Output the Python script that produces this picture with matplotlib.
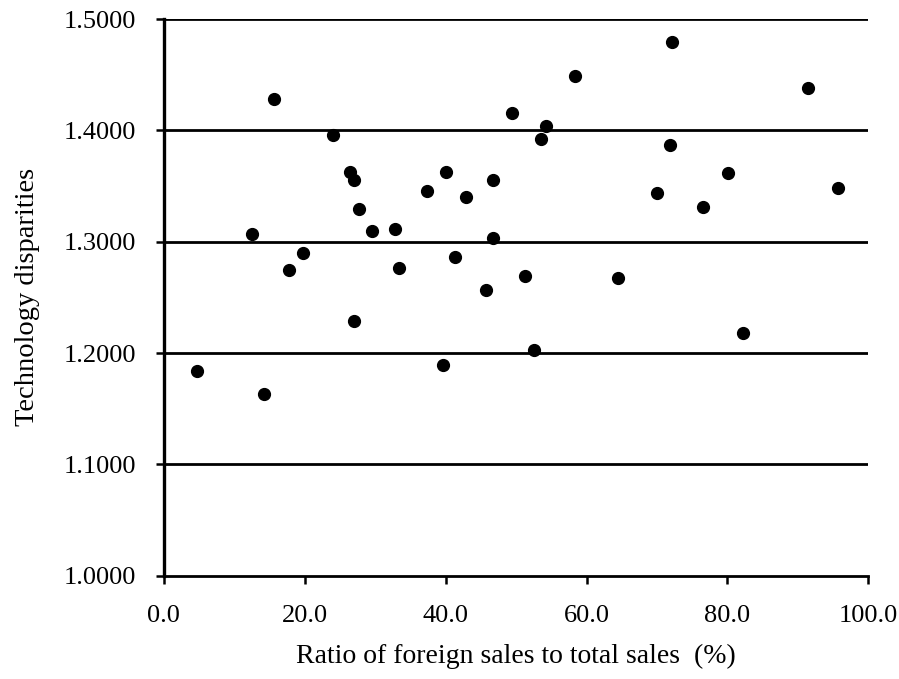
import matplotlib.pyplot as plt
import numpy as np

# foreign sales ratio (%) vs technology disparities
ratio = [4.7, 12.6, 14.2, 15.7, 17.8, 19.8, 24.1, 26.4, 27.0, 27.0,
         27.7, 29.5, 32.8, 33.4, 37.4, 39.7, 40.1, 41.4, 42.9, 45.7,
         46.7, 46.8, 49.4, 51.3, 52.6, 53.5, 54.3, 58.4, 64.5, 70.0,
         71.8, 72.2, 76.5, 80.1, 82.2, 91.4, 95.7]
disparity = [1.184, 1.307, 1.163, 1.428, 1.275, 1.290, 1.396, 1.363, 1.355, 1.229,
             1.329, 1.310, 1.311, 1.276, 1.346, 1.189, 1.363, 1.286, 1.340, 1.257,
             1.303, 1.355, 1.416, 1.269, 1.203, 1.392, 1.404, 1.449, 1.267, 1.344,
             1.387, 1.479, 1.331, 1.362, 1.218, 1.438, 1.348]

x_ticks = [0, 20, 40, 60, 80, 100]
y_ticks = [1.0, 1.1, 1.2, 1.3, 1.4, 1.5]

plt.rcParams['font.family'] = ['Liberation Serif', 'DejaVu Serif']

fig = plt.figure(figsize=(8.99, 6.79), dpi=100)
ax = fig.add_axes([0.182, 0.152, 0.784, 0.820])

# horizontal grid lines
for yv in y_ticks[1:]:
    ax.axhline(yv, color='black', lw=2.0, zorder=1)

ax.plot(ratio, disparity, 'o', color='black', markersize=8.5, zorder=3)

ax.set_xlim(0, 100)
ax.set_ylim(1.0, 1.5)
ax.set_xticks(x_ticks)
ax.set_xticklabels([f'{v:.1f}' for v in x_ticks])
ax.set_yticks(y_ticks)
ax.set_yticklabels([f'{v:.4f}' for v in y_ticks])

for s in ['top', 'right']:
    ax.spines[s].set_visible(False)
ax.spines['left'].set_linewidth(2.4)
ax.spines['bottom'].set_linewidth(2.0)

ax.tick_params(axis='both', direction='out', length=6, width=1.8,
               labelsize=19, colors='black')
ax.tick_params(axis='y', pad=14)
ax.tick_params(axis='x', pad=15)

ax.set_xlabel('Ratio of foreign sales to total sales  (%)', fontsize=20, labelpad=12)
ax.set_ylabel('Technology disparities', fontsize=20.5, labelpad=17)

fig.savefig('out.png', dpi=100)
